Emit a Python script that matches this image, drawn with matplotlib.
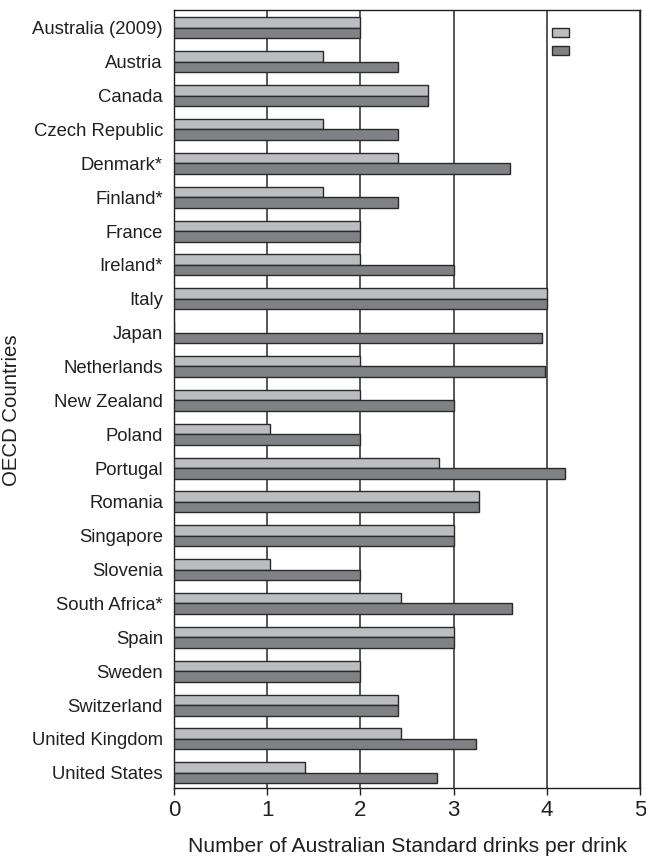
import matplotlib.pyplot as plt
import matplotlib.patches as mpatches
import numpy as np

plt.rcParams['font.family'] = ['Liberation Sans', 'DejaVu Sans']

paises = ['Australia (2009)', 'Austria', 'Canada', 'Czech Republic', 'Denmark*',
          'Finland*', 'France', 'Ireland*', 'Italy', 'Japan', 'Netherlands',
          'New Zealand', 'Poland', 'Portugal', 'Romania', 'Singapore', 'Slovenia',
          'South Africa*', 'Spain', 'Sweden', 'Switzerland', 'United Kingdom',
          'United States']
# barra clara (de cima)
serie1 = [2.0, 1.6, 2.72, 1.6, 2.4, 1.6, 2.0, 2.0, 4.0, 0.0, 2.0, 2.0, 1.03,
          2.84, 3.27, 3.0, 1.03, 2.44, 3.0, 2.0, 2.4, 2.44, 1.41]
# barra escura (de baixo)
serie2 = [2.0, 2.4, 2.72, 2.4, 3.61, 2.4, 2.0, 3.0, 4.0, 3.95, 3.98, 3.0, 2.0,
          4.2, 3.27, 3.0, 2.0, 3.63, 3.0, 2.0, 2.4, 3.24, 2.82]

claro = '#bcbdc0'
escuro = '#808184'
borda = '#2a2a2a'

fig = plt.figure(figsize=(6.46, 8.59), dpi=100)
ax = fig.add_axes([0.2694, 0.0827, 0.7213, 0.9057])

y = np.arange(len(paises))
h = 0.31
ax.barh(y - h/2, serie1, height=h, color=claro, edgecolor=borda, linewidth=1, zorder=3)
ax.barh(y + h/2, serie2, height=h, color=escuro, edgecolor=borda, linewidth=1, zorder=3)

ax.set_xlim(0, 5)
ax.set_ylim(22.45, -0.53)
ax.set_xticks([0, 1, 2, 3, 4, 5])
ax.set_yticks(y)
ax.set_yticklabels(paises, fontsize=13.3, color='#231f20')
ax.tick_params(axis='y', length=0, pad=8)
ax.tick_params(axis='x', direction='out', length=5, width=1, colors='#231f20',
               labelsize=16, pad=4)
ax.xaxis.grid(True, color='#3a3a3a', linewidth=1.2, zorder=0)
ax.set_axisbelow(True)
for s in ax.spines.values():
    s.set_color('#231f20')
    s.set_linewidth(1)

ax.set_xlabel('Number of Australian Standard drinks per drink', fontsize=15.2,
              color='#231f20', labelpad=11)
ax.set_ylabel('OECD Countries', fontsize=14.7, color='#231f20')
ax.yaxis.set_label_coords(-0.328, 0.485)

handles = [mpatches.Patch(facecolor=claro, edgecolor=borda),
           mpatches.Patch(facecolor=escuro, edgecolor=borda)]
ax.legend(handles, [' ', ' '], loc='upper left', frameon=False,
          bbox_to_anchor=(0.811, 0.977), borderaxespad=0, borderpad=0,
          handlelength=1.36, handleheight=0.72, labelspacing=0.45,
          handletextpad=0.2, fontsize=9)

fig.savefig('out.png', dpi=100)
